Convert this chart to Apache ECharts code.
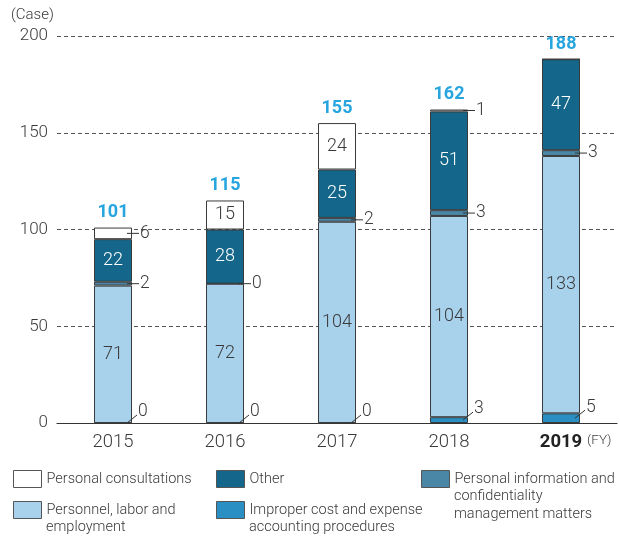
<!DOCTYPE html>
<html>
<head>
<meta charset="utf-8">
<script src="https://cdn.jsdelivr.net/npm/echarts@6/dist/echarts.min.js"></script>
<style>
  html, body { margin: 0; padding: 0; background: #fff; }
  #chart { width: 620px; height: 538px; }
</style>
</head>
<body>
<div id="chart"></div>
<script>
// Fiscal years on the category axis
const years = ['2015', '2016', '2017', '2018', '2019'];

// Cases per category, stacked bottom to top
const improper    = [0, 0, 0, 3, 5];        // Improper cost and expense accounting procedures
const personnel   = [71, 72, 104, 104, 133]; // Personnel, labor and employment
const privacy     = [2, 0, 2, 3, 3];        // Personal information and confidentiality management matters
const other       = [22, 28, 25, 51, 47];   // Other
const consult     = [6, 15, 24, 1, 0];      // Personal consultations

// Value-axis ticks
const yTicks = [0, 50, 100, 150, 200];

const FONT = 'Roboto, "Liberation Sans", sans-serif';
const TEXT = '#3a3a3a';
const BORDER = '#3a3a3a';

const COLORS = {
  improper: '#2a8fc3',
  personnel: '#a8d2ec',
  privacy: '#4a87a7',
  other: '#14678a',
  consult: '#ffffff'
};

const NAMES = {
  consult: 'Personal consultations',
  other: 'Other',
  privacy: 'Personal information and confidentiality management matters',
  personnel: 'Personnel, labor and employment',
  improper: 'Improper cost and expense accounting procedures'
};

// Legend wording, broken into lines
const LEGEND_LINES = {
  consult: ['Personal consultations'],
  other: ['Other'],
  privacy: ['Personal information and', 'confidentiality', 'management matters'],
  personnel: ['Personnel, labor and', 'employment'],
  improper: ['Improper cost and expense', 'accounting procedures']
};

const totals = years.map((_, i) => improper[i] + personnel[i] + privacy[i] + other[i] + consult[i]);

// Callouts for the thin segments: [category, base, value, style] (style 0 = level, 1 = slanted)
const callouts = [];
years.forEach((_, i) => {
  callouts.push([i, 0, improper[i], 1]);
  callouts.push([i, improper[i] + personnel[i], privacy[i], 0]);
  if (consult[i] > 0 && consult[i] < 10) {
    callouts.push([i, improper[i] + personnel[i] + privacy[i] + other[i], consult[i], 0]);
  }
});

function barSeries(key, data, labelColor, showLabel) {
  return {
    name: NAMES[key],
    type: 'bar',
    stack: 'cases',
    barWidth: 38,
    data: data,
    itemStyle: { color: COLORS[key], borderColor: BORDER, borderWidth: 1 },
    emphasis: { disabled: true },
    label: {
      show: !!showLabel,
      position: 'inside',
      color: labelColor,
      fontFamily: FONT,
      fontWeight: 300,
      fontSize: 18,
      formatter: p => (showLabel === 'big' ? (p.value >= 10 ? String(p.value) : '') : String(p.value))
    }
  };
}

const LEGEND_FONT = 14.5;
const LEGEND_LH = 18;
const ICON_W = 28;
const ICON_H = 17;
const ICON_GAP = 5;

// Legend: one component per entry so each can sit in its own column/row
function legendItem(key, left, top) {
  return {
    data: [NAMES[key]],
    left: left,
    top: top,
    padding: 0,
    icon: 'rect',
    itemWidth: ICON_W,
    itemHeight: ICON_H,
    itemGap: ICON_GAP,
    selectedMode: false,
    itemStyle: { borderColor: '#555', borderWidth: 1 },
    formatter: () => LEGEND_LINES[key][0],
    textStyle: { fontFamily: FONT, fontWeight: 300, fontSize: LEGEND_FONT, color: TEXT }
  };
}

// Continuation lines of the wrapped legend entries
function legendTail(key, left, top) {
  const lines = LEGEND_LINES[key];
  return lines.slice(1).map((t, k) => ({
    type: 'text',
    x: left + ICON_W + ICON_GAP,
    y: top + ICON_H / 2 + (k + 1) * LEGEND_LH,
    style: {
      text: t, verticalAlign: 'middle', align: 'left',
      fontFamily: FONT, fontWeight: 300, fontSize: LEGEND_FONT, fill: TEXT
    }
  }));
}

const legendSlots = [
  ['consult', 13, 470],
  ['other', 216, 470],
  ['privacy', 421, 470],
  ['personnel', 13, 501],
  ['improper', 216, 501]
];

const chart = echarts.init(document.getElementById('chart'), null, { renderer: 'canvas' });

chart.setOption({
  animation: false,
  backgroundColor: '#ffffff',
  grid: { left: 57, right: 3, top: 36, bottom: 115 },
  xAxis: {
    type: 'category',
    data: years,
    axisTick: { show: false },
    axisLine: { lineStyle: { color: '#333', width: 1.2 } },
    axisLabel: {
      margin: 10,
      fontFamily: FONT,
      fontWeight: 300,
      fontSize: 18.5,
      color: TEXT,
      formatter: (v, i) => (i === years.length - 1 ? '{b|' + v + '}' : v),
      rich: { b: { fontFamily: FONT, fontWeight: 'bold', fontSize: 18.5, color: '#222' } }
    }
  },
  yAxis: {
    type: 'value',
    min: yTicks[0],
    max: yTicks[yTicks.length - 1],
    interval: yTicks[1] - yTicks[0],
    axisLine: { show: false },
    axisTick: { show: false },
    axisLabel: {
      margin: 9,
      fontFamily: FONT,
      fontWeight: 300,
      fontSize: 17,
      color: TEXT
    },
    splitLine: { lineStyle: { color: '#555', type: [4, 3], width: 1 } }
  },
  legend: legendSlots.map(s => legendItem(s[0], s[1], s[2])),
  graphic: [
    {
      type: 'text', left: 11, top: 8,
      style: { text: '(Case)', fontFamily: FONT, fontWeight: 300, fontSize: 15, fill: TEXT }
    },
    {
      type: 'text', left: 587, top: 434,
      style: { text: '(FY)', fontFamily: FONT, fontWeight: 300, fontSize: 13.5, fill: TEXT }
    }
  ].concat(...legendSlots.map(s => legendTail(s[0], s[1], s[2]))),
  series: [
    barSeries('improper', improper, TEXT, false),
    barSeries('personnel', personnel, TEXT, true),
    barSeries('privacy', privacy, TEXT, false),
    barSeries('other', other, '#ffffff', true),
    barSeries('consult', consult, TEXT, 'big'),
    {
      name: 'callouts',
      type: 'custom',
      z: 10,
      silent: true,
      data: callouts,
      encode: { x: 0, y: 1 },
      renderItem: (params, api) => {
        const i = api.value(0), base = api.value(1), v = api.value(2), slant = api.value(3);
        const p = api.coord([i, base + v / 2]);
        const cx = p[0], y = p[1];
        const x0 = cx + 14;
        const x1 = slant ? cx + 24 : cx + 26;
        const y1 = slant ? y - 8 : y;
        const ty = slant ? y - 11 : y;
        return {
          type: 'group',
          children: [
            { type: 'line', shape: { x1: x0, y1: y, x2: x1, y2: y1 }, style: { stroke: '#333', lineWidth: 1 } },
            {
              type: 'text',
              style: {
                text: String(v), x: x1 + 1, y: ty,
                align: 'left', verticalAlign: 'middle',
                fontFamily: FONT, fontWeight: 300, fontSize: 17.5, fill: TEXT
              }
            }
          ]
        };
      }
    },
    {
      name: 'totals',
      type: 'custom',
      z: 10,
      silent: true,
      data: totals.map((t, i) => [i, t]),
      encode: { x: 0, y: 1 },
      renderItem: (params, api) => {
        const p = api.coord([api.value(0), api.value(1)]);
        return {
          type: 'text',
          style: {
            text: String(api.value(1)), x: p[0], y: p[1] - 15,
            align: 'center', verticalAlign: 'middle',
            fontFamily: FONT, fontWeight: 'bold', fontSize: 18, fill: '#27a5de'
          }
        };
      }
    }
  ]
});
</script>
</body>
</html>
